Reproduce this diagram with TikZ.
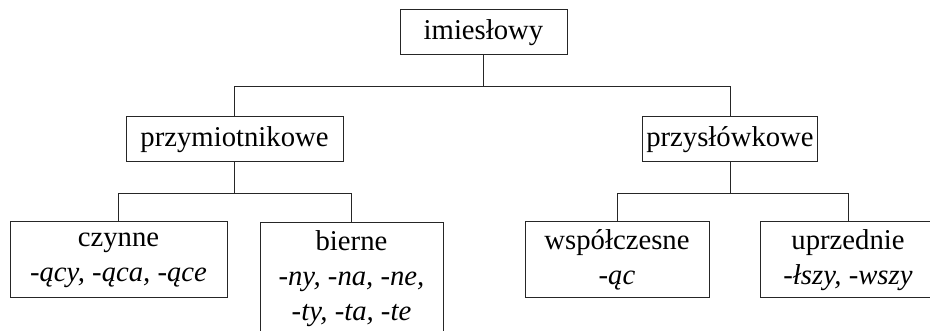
\documentclass[tikz,border=0pt]{standalone}
\usepackage{fontspec}
\setmainfont{Liberation Serif}
\usetikzlibrary{calc}
\begin{document}
\begin{tikzpicture}[x=1pt,y=-1pt,
  box/.style={draw=black!85,line width=1pt,align=center,inner xsep=4pt,inner ysep=7pt,
    font=\fontsize{28.7}{35}\selectfont},
  link/.style={draw=black!85,line width=1pt}]
\useasboundingbox (0,0) rectangle (930,331);
\node[box,minimum width=167,minimum height=45] (imi) at (483.5,32.5) {imiesłowy};
\node[box,minimum width=217,minimum height=45] (prz) at (234.5,139.5) {przymiotnikowe};
\node[box,minimum width=172,minimum height=45] (prs) at (730,139.5) {przysłówkowe};
\node[box,minimum width=217,minimum height=76] (czy) at (118.5,260) {czynne\\\textit{-ący, -ąca, -ące}};
\node[box,minimum width=183,anchor=north,inner ysep=8pt] (bie) at (351.5,222) {bierne\\\textit{-ny, -na, -ne,}\\\textit{-ty, -ta, -te}};
\node[box,minimum width=184,minimum height=76] (wsp) at (617,260) {współczesne\\\textit{-ąc}};
\node[box,minimum width=176,minimum height=76] (upr) at (848,260) {uprzednie\\\textit{-łszy, -wszy}};
\coordinate (j1) at ($(imi.south)+(0,31)$);
\path[link] (imi.south) -- (j1) -| (prz.north);
\path[link] (j1) -| (prs.north);
\coordinate (j2) at ($(prz.south)+(0,31)$);
\path[link] (prz.south) -- (j2) -| (czy.north);
\path[link] (j2) -| (bie.north);
\coordinate (j3) at ($(prs.south)+(0,31)$);
\path[link] (prs.south) -- (j3) -| (wsp.north);
\path[link] (j3) -| (upr.north);
\end{tikzpicture}
\end{document}
